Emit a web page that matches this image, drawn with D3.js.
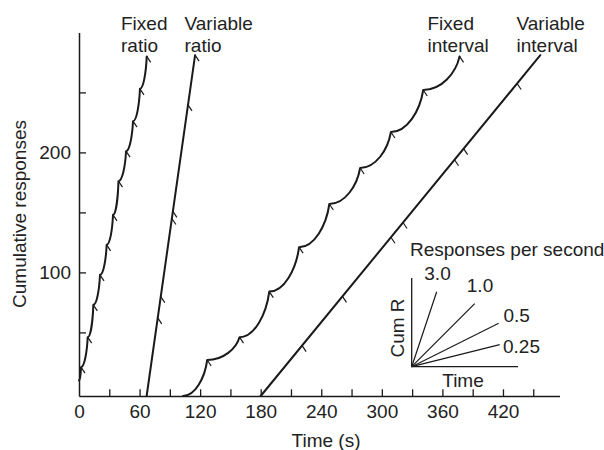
<!DOCTYPE html>
<html>
<head>
<meta charset="utf-8">
<script src="https://cdn.jsdelivr.net/npm/d3@7/dist/d3.min.js"></script>
<style>
  html, body { margin: 0; padding: 0; background: #fff; }
  svg { display: block; }
  text { font-family: "Liberation Sans", Arial, Helvetica, sans-serif; fill: #222; }
</style>
</head>
<body>
<svg id="chart" width="604" height="450"></svg>
<script>
// Cumulative records for the four schedules of reinforcement.
// Times in seconds, responses cumulative. Reinforcements are at the vertices.
const frTime = [0, 2, 8.6, 14.2, 20.8, 27.4, 33.7, 39.1, 46.6, 53.5, 60.4, 67.1];
const frResp = [10, 21, 46, 73, 98, 123, 148, 176, 201, 226, 253, 280];

const vrTime = [67, 115];
const vrResp = [-3, 281];
const vrMarkTimes = [78, 81, 92, 93, 108, 115];

const fiTime = [103, 127, 159, 188.5, 218, 248, 278.5, 309, 341, 377];
const fiResp = [-3, 27, 46, 84, 121, 157, 187, 217, 252, 280];

const viTime = [180, 457];
const viResp = [-3, 281];
const viMarkTimes = [221, 261, 309, 321, 372, 381, 434];

const xTicks = [30, 60, 90, 120, 150, 180, 210, 240, 270, 300, 330, 360, 390, 420, 450];
const xTickLabels = [0, 60, 120, 180, 240, 300, 360, 420];
const yTicks = [50, 100, 150, 200, 250];
const yTickLabels = [100, 200];

// Inset: response-rate key
const insetRates = [3.0, 1.0, 0.5, 0.25];
const insetRateLabels = ["3.0", "1.0", "0.5", "0.25"];
const insetRunLength = [25, 63, 87, 88];

const INK = "#1a1a1a";
const FONT = 19;

const svg = d3.select("#chart");

const x = d3.scaleLinear().domain([0, 476]).range([79, 559.5]);
const y = d3.scaleLinear().domain([-3, 300]).range([396, 32.4]);

// X axis
const gx = svg.append("g").attr("transform", `translate(0,${y(-3)})`)
  .call(d3.axisBottom(x).tickValues(xTicks).tickSizeInner(-6.7).tickSizeOuter(0).tickFormat(""));
gx.select(".domain").attr("stroke", INK).attr("stroke-width", 1.5);
gx.selectAll(".tick line").attr("stroke", INK).attr("stroke-width", 1.3);

const gxl = svg.append("g").attr("transform", `translate(0,${y(-3)})`)
  .call(d3.axisBottom(x).tickValues(xTickLabels).tickSize(0).tickPadding(8.5).tickFormat(d3.format("d")));
gxl.select(".domain").remove();
gxl.attr("font-size", FONT).attr("font-family", null);
gxl.selectAll("text").attr("fill", "#222");

// Y axis
const gy = svg.append("g").attr("transform", `translate(${x(0)},0)`)
  .call(d3.axisLeft(y).tickValues(yTicks).tickSizeInner(-7).tickSizeOuter(0)
    .tickPadding(8).tickFormat(d => yTickLabels.includes(d) ? d : ""));
gy.select(".domain").attr("stroke", INK).attr("stroke-width", 1.5);
gy.selectAll(".tick line").attr("stroke", INK).attr("stroke-width", 1.3);
gy.attr("font-size", FONT).attr("font-family", null);
gy.selectAll("text").attr("fill", "#222").attr("x", -8);

// Axis titles
svg.append("text").attr("x", 326).attr("y", 447).attr("text-anchor", "middle")
  .attr("font-size", FONT).text("Time (s)");
svg.append("text").attr("transform", "translate(26,214) rotate(-90)")
  .attr("text-anchor", "middle").attr("font-size", FONT).text("Cumulative responses");

// Scalloped record: flat just after each reinforcement, steepening into the next
function scallop(ts, cs) {
  const p = d3.path();
  p.moveTo(x(ts[0]), y(cs[0]));
  for (let i = 1; i < ts.length; i++) {
    const ax = x(ts[i - 1]), ay = y(cs[i - 1]);
    const bx = x(ts[i]), by = y(cs[i]);
    const dx = bx - ax, dy = ay - by;
    p.bezierCurveTo(ax + 0.5 * dx, ay, bx - 0.1 * dx, by + 0.5 * dy, bx, by);
  }
  return p.toString();
}

const straight = d3.line().x(d => x(d[0])).y(d => y(d[1]));

const curves = svg.append("g").attr("fill", "none").attr("stroke", INK)
  .attr("stroke-width", 2).attr("stroke-linejoin", "round").attr("stroke-linecap", "round");

curves.append("path").attr("d", scallop(frTime, frResp));
curves.append("path").attr("d", straight(d3.zip(vrTime, vrResp)));
curves.append("path").attr("d", scallop(fiTime, fiResp));
curves.append("path").attr("d", straight(d3.zip(viTime, viResp)));

// Reinforcement hatch marks
const lerp = (ts, cs) => d3.scaleLinear().domain(ts).range(cs);
const marks = [];
frTime.slice(1).forEach((t, i) => marks.push([t, frResp[i + 1]]));
fiTime.slice(1).forEach((t, i) => marks.push([t, fiResp[i + 1]]));
const vrAt = lerp(vrTime, vrResp);
vrMarkTimes.forEach(t => marks.push([t, vrAt(t)]));
const viAt = lerp(viTime, viResp);
viMarkTimes.forEach(t => marks.push([t, viAt(t)]));

svg.append("g").attr("stroke", INK).attr("stroke-width", 1.2).attr("fill", "none")
  .selectAll("path").data(marks).join("path")
  .attr("d", d => `M${x(d[0])},${y(d[1])}l4,6`);

// Curve labels
const labels = [
  { x: 121, lines: ["Fixed", "ratio"] },
  { x: 184.5, lines: ["Variable", "ratio"] },
  { x: 427.5, lines: ["Fixed", "interval"] },
  { x: 516.5, lines: ["Variable", "interval"] }
];
labels.forEach(l => {
  const t = svg.append("text").attr("font-size", FONT);
  l.lines.forEach((s, i) => t.append("tspan").attr("x", l.x).attr("y", 29.5 + i * 22.3).text(s));
});

// Inset key
const ix = d3.scaleLinear().domain([0, 106.3]).range([411.7, 518]);
const iy = d3.scaleLinear().domain([0, 88.7]).range([366.7, 278]);
const inset = svg.append("g");
inset.append("path").attr("fill", "none").attr("stroke", INK).attr("stroke-width", 1.3)
  .attr("d", `M${ix(0)},${iy(88.7)}V${iy(0)}H${ix(106.3)}`);
inset.append("g").attr("stroke", INK).attr("stroke-width", 1.2)
  .selectAll("line").data(insetRates).join("line")
  .attr("x1", ix(0)).attr("y1", iy(0))
  .attr("x2", (r, i) => ix(insetRunLength[i]))
  .attr("y2", (r, i) => iy(r * insetRunLength[i]));

const labelPos = [[437.5, 280, "middle"], [480, 292, "middle"], [503.5, 322, "start"], [503, 353, "start"]];
inset.selectAll("text.rate").data(insetRateLabels).join("text").attr("class", "rate")
  .attr("font-size", FONT)
  .attr("x", (d, i) => labelPos[i][0]).attr("y", (d, i) => labelPos[i][1])
  .attr("text-anchor", (d, i) => labelPos[i][2]).text(d => d);

inset.append("text").attr("x", 410).attr("y", 256).attr("font-size", FONT).text("Responses per second");
inset.append("text").attr("x", 463).attr("y", 386.5).attr("text-anchor", "middle")
  .attr("font-size", FONT).text("Time");
inset.append("text").attr("transform", "translate(403.5,328) rotate(-90)")
  .attr("text-anchor", "middle").attr("font-size", FONT).text("Cum R");
</script>
</body>
</html>
